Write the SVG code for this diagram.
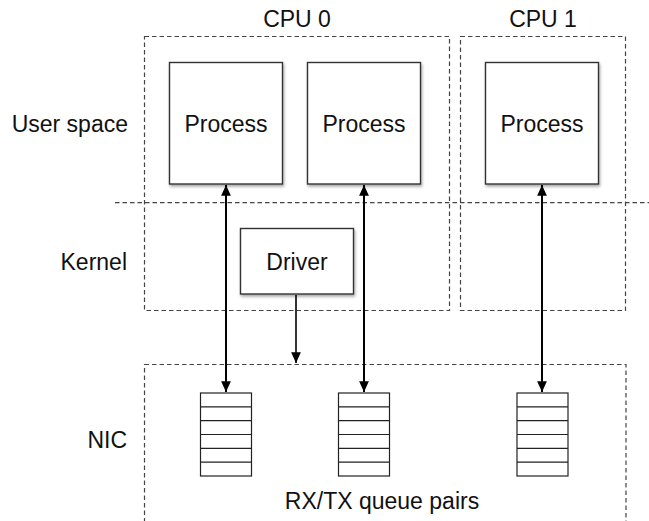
<svg xmlns="http://www.w3.org/2000/svg" width="649" height="521" viewBox="0 0 649 521">
<style>
text{font-family:"Liberation Sans",Arial,sans-serif;fill:#111;}
.lbl{font-size:23px;}
.dash{fill:none;stroke:#444;stroke-width:1.2;stroke-dasharray:4.5,3;}
.box{fill:#fff;stroke:#333;stroke-width:1.4;}
.q{fill:#fff;stroke:#222;stroke-width:1.2;}
.arr{stroke:#000;stroke-width:2;fill:none;}
</style>
<defs>
<filter id="sh" x="-10%" y="-10%" width="130%" height="130%">
<feGaussianBlur in="SourceAlpha" stdDeviation="1.5"/>
<feOffset dx="1" dy="2" result="b"/>
<feComponentTransfer><feFuncA type="linear" slope="0.35"/></feComponentTransfer>
<feMerge><feMergeNode/><feMergeNode in="SourceGraphic"/></feMerge>
</filter>
<marker id="ah" viewBox="0 0 10 12" refX="10" refY="6" markerWidth="12" markerHeight="13" markerUnits="userSpaceOnUse" orient="auto-start-reverse">
<path d="M0,1.5 L10,6 L0,10.5 z" fill="#000"/>
</marker>
<g id="queue">
<rect class="q" x="0" y="0" width="51" height="83"/>
<path d="M0,13.8H51M0,27.7H51M0,41.5H51M0,55.3H51M0,69.2H51" stroke="#222" stroke-width="1.2"/>
</g>
</defs>
<rect width="649" height="521" fill="#fff"/>

<g id="regions">
<rect id="cpu0" class="dash" x="144.5" y="36.5" width="305" height="274"/>
<rect id="cpu1" class="dash" x="460.5" y="36.5" width="165" height="274"/>
<rect id="nic" class="dash" x="144.5" y="364.5" width="481.5" height="160"/>
<line class="dash" x1="115" y1="202.7" x2="649" y2="202.7"/>
</g>

<g id="labels">
<text class="lbl" x="297" y="26.5" text-anchor="middle">CPU 0</text>
<text class="lbl" x="543" y="26.5" text-anchor="middle">CPU 1</text>
<text class="lbl" x="128" y="132" text-anchor="end">User space</text>
<text class="lbl" x="127" y="270" text-anchor="end">Kernel</text>
<text class="lbl" x="127" y="448" text-anchor="end">NIC</text>
<text class="lbl" x="382" y="508.5" text-anchor="middle">RX/TX queue pairs</text>
</g>

<g id="process1"><rect class="box" filter="url(#sh)" x="169.5" y="62.5" width="113" height="121.5"/><text class="lbl" x="226" y="132" text-anchor="middle">Process</text></g>
<g id="process2"><rect class="box" filter="url(#sh)" x="307.5" y="62.5" width="113" height="121.5"/><text class="lbl" x="364" y="132" text-anchor="middle">Process</text></g>
<g id="process3"><rect class="box" filter="url(#sh)" x="485.5" y="62.5" width="113" height="121.5"/><text class="lbl" x="542" y="132" text-anchor="middle">Process</text></g>
<g id="driver"><rect class="box" filter="url(#sh)" x="240.5" y="228.5" width="113" height="65.5"/><text class="lbl" x="297" y="269.5" text-anchor="middle">Driver</text></g>

<g id="queue1"><use href="#queue" x="200.5" y="393"/></g>
<g id="queue2"><use href="#queue" x="338.5" y="393"/></g>
<g id="queue3"><use href="#queue" x="517" y="393"/></g>

<g id="connectors">
<line class="arr" x1="226" y1="185" x2="226" y2="392" marker-start="url(#ah)" marker-end="url(#ah)"/>
<line class="arr" x1="364" y1="185" x2="364" y2="392" marker-start="url(#ah)" marker-end="url(#ah)"/>
<line class="arr" x1="542" y1="185" x2="542" y2="392" marker-start="url(#ah)" marker-end="url(#ah)"/>
<line class="arr" x1="296" y1="295" x2="296" y2="363" marker-end="url(#ah)" style="stroke-width:1.6"/>
</g>
</svg>
